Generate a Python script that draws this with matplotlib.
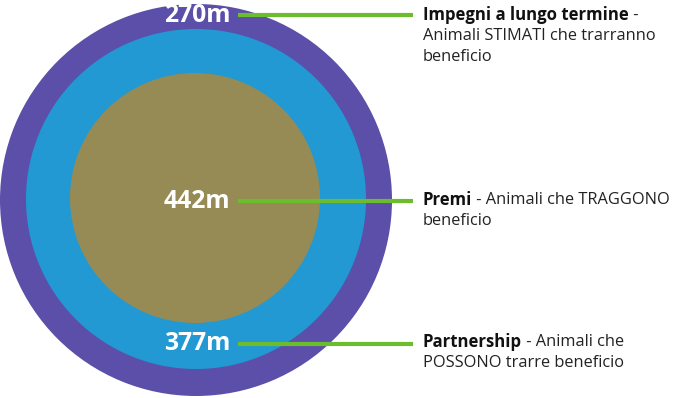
import matplotlib
matplotlib.use("Agg")
import matplotlib.pyplot as plt
from matplotlib.patches import Circle

values = ["270m", "442m", "377m"]
titles = ["Impegni a lungo termine", "Premi", "Partnership"]
descs = [" -\nAnimali STIMATI che trarranno\nbeneficio",
         " - Animali che TRAGGONO\nbeneficio",
         " - Animali che\nPOSSONO trarre beneficio"]
ring_colors = ["#5b4fa9", "#2299d3", "#968b55"]

fig = plt.figure(figsize=(7.0, 3.98), dpi=100)
ax = fig.add_axes([0, 0, 1, 1])
ax.set_xlim(0, 700)
ax.set_ylim(398, 0)
ax.set_aspect("equal")
ax.axis("off")

circles = [((196, 200), 196), ((196, 199), 170), ((195, 198), 125)]
for (c, r), col in zip(circles, ring_colors):
    ax.add_patch(Circle(c, r, facecolor=col, edgecolor="none"))

label_y = [15, 201, 344]
for v, y in zip(values, label_y):
    ax.text(197, y, v, color="white", fontsize=17.8, fontweight="bold",
            family="Open Sans", ha="center", va="center")
    ax.plot([238, 413], [y, y], color="#6cbd2e", lw=3, solid_capstyle="butt")

text_y = [15, 200, 342]
for t, d, y in zip(titles, descs, text_y):
    first, *rest = d.split("\n")
    tt = ax.text(423, y, t, color="#111111", fontsize=12.1, fontweight="bold",
                 family="Open Sans", ha="left", va="center")
    fig.canvas.draw()
    bb = tt.get_window_extent()
    inv = ax.transData.inverted()
    x_end = inv.transform((bb.x1, bb.y0))[0]
    ax.text(x_end, y, first, color="#222222", fontsize=11.8, family="Open Sans",
            ha="left", va="center")
    for i, line in enumerate(rest):
        ax.text(423, y + 21 * (i + 1), line, color="#222222", fontsize=11.8,
                family="Open Sans", ha="left", va="center")

fig.savefig("out.png", dpi=100, facecolor="white")
